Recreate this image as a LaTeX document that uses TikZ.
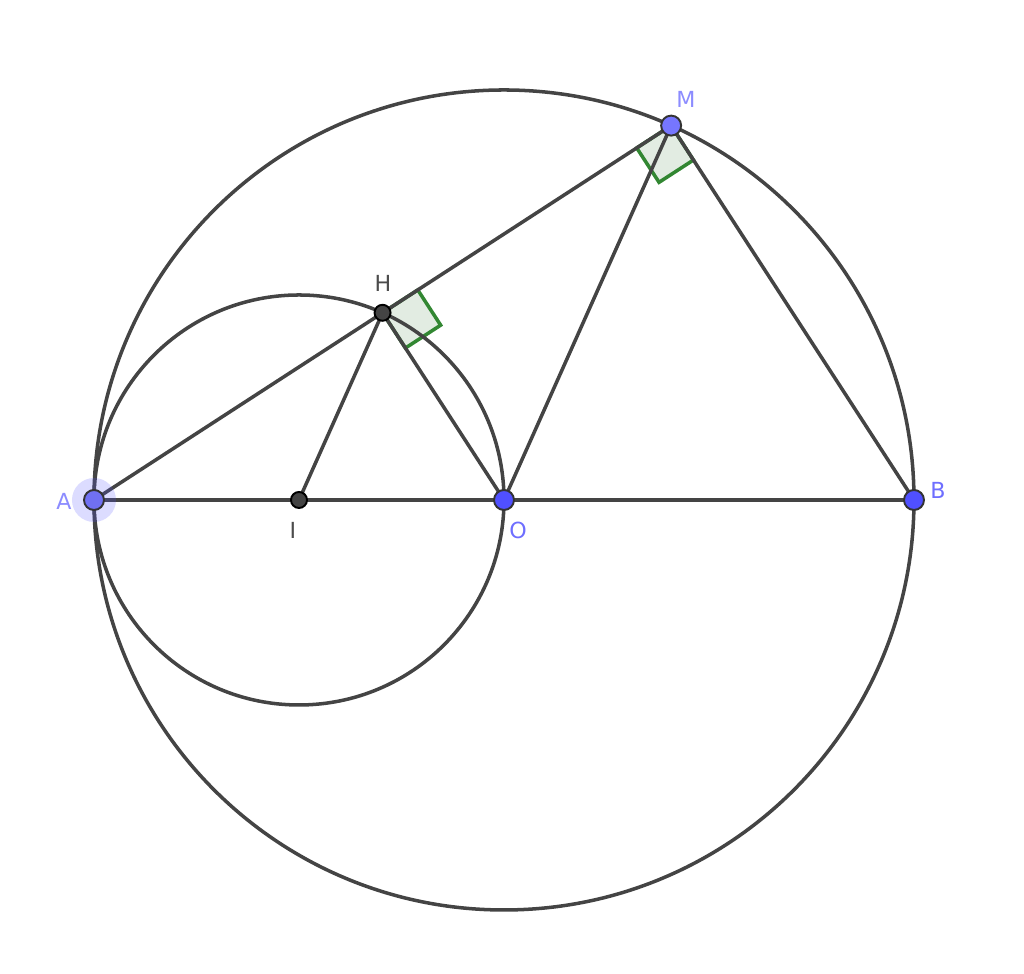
\documentclass[tikz,border=0pt]{standalone}
\usepackage{fontspec}
\setsansfont{DejaVu Sans}
\usepackage{tikz}
\usetikzlibrary{calc}
\definecolor{segcol}{RGB}{68,68,68}
\definecolor{ptblue}{RGB}{80,80,255}
\definecolor{ptlight}{RGB}{118,118,255}
\definecolor{lblblue}{RGB}{110,110,255}
\definecolor{lbllight}{RGB}{140,140,255}
\definecolor{anggreen}{RGB}{50,135,50}
\definecolor{angfill}{RGB}{226,236,226}
\tikzset{seg/.style={segcol,line width=1pt},
  rightangle/.style={fill=angfill,draw=anggreen,line width=1pt},
  lbl/.style={font=\sffamily\fontsize{6.3}{7}\selectfont,inner sep=0pt}}

\begin{document}
\begin{tikzpicture}
\useasboundingbox (-5.04,-4.74) rectangle (5.20,5.00);
\coordinate (O) at (0,0);
\coordinate (A) at (-4.10,0);
\coordinate (B) at (4.10,0);
\coordinate (I) at (-2.05,0);
\coordinate (M) at (65.94:4.10);
\coordinate (H) at ($(A)!0.5!(M)$);
% right angles
\coordinate (hm) at ($(H)!0.42cm!(M)$);
\coordinate (ho) at ($(H)!0.42cm!(O)$);
\filldraw[rightangle] (H) -- (hm) -- ($(hm)+(ho)-(H)$) -- (ho) -- cycle;
\coordinate (ma) at ($(M)!0.41cm!(A)$);
\coordinate (mb) at ($(M)!0.41cm!(B)$);
\filldraw[rightangle] (M) -- (ma) -- ($(ma)+(mb)-(M)$) -- (mb) -- cycle;
% circles and segments
\draw[seg] (O) circle (4.10);
\draw[seg] (I) circle (2.05);
\draw[seg] (A) -- (B);
\draw[seg] (A) -- (M);
\draw[seg] (H) -- (I);
\draw[seg] (H) -- (O);
\draw[seg] (O) -- (M);
\draw[seg] (M) -- (B);
% points
\fill[ptblue,opacity=0.2] (A) circle (0.22);
\filldraw[fill=ptlight!95!black,draw=black!80,line width=0.55pt] (A) circle (0.1);
\filldraw[fill=ptlight,draw=black!80,line width=0.55pt] (M) circle (0.1);
\filldraw[fill=ptblue,draw=black!80,line width=0.55pt] (O) circle (0.1);
\filldraw[fill=ptblue,draw=black!80,line width=0.55pt] (B) circle (0.1);
\filldraw[fill=segcol,draw=black,line width=0.55pt] (I) circle (0.08);
\filldraw[fill=segcol,draw=black,line width=0.55pt] (H) circle (0.08);
% labels
\node[lbl,lbllight] (labM) at (1.82,4.01) {M};
\node[lbl,black!70] (labH) at (-1.21,2.17) {H};
\node[lbl,lbllight] (labA) at (-4.40,-0.01) {A};
\node[lbl,black!70] (labI) at (-2.11,-0.30) {I};
\node[lbl,lblblue] (labO) at (0.14,-0.30) {O};
\node[lbl,lblblue] (labB) at (4.34,0.10) {B};
\end{tikzpicture}
\end{document}
